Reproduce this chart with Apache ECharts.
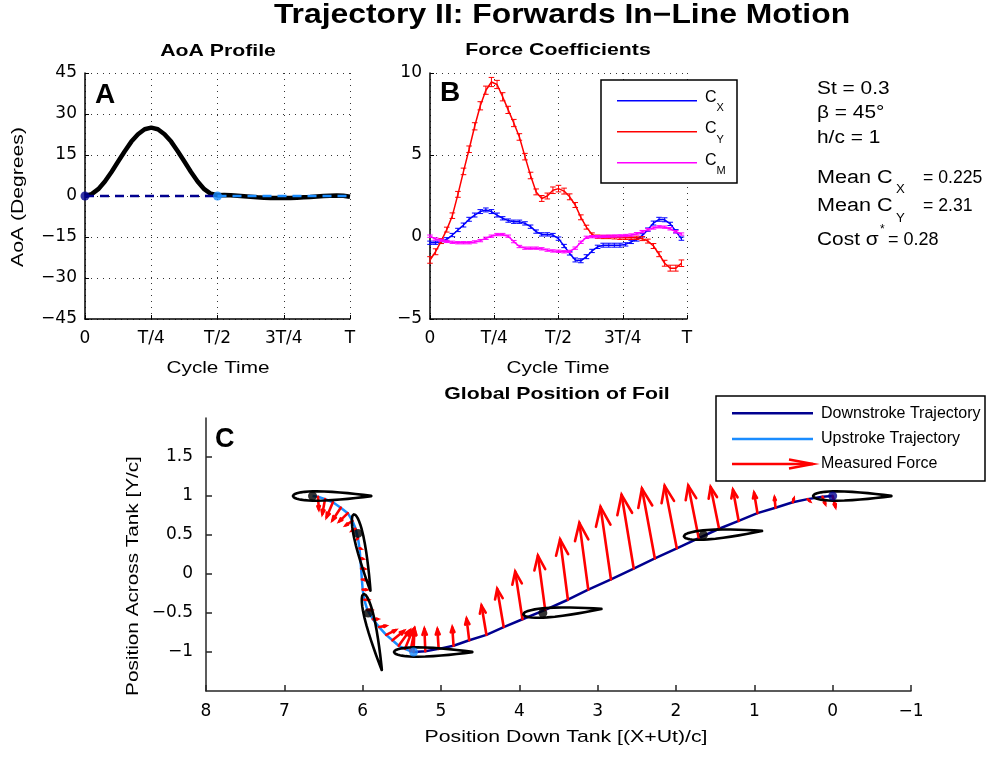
<!DOCTYPE html>
<html>
<head>
<meta charset="utf-8">
<title>Trajectory II: Forwards In−Line Motion</title>
<script src="https://cdn.jsdelivr.net/npm/echarts@6/dist/echarts.min.js"></script>
<style>
html, body { margin: 0; padding: 0; background: #fff; }
#chart { width: 989px; height: 759px; }
</style>
</head>
<body>
<div id="chart"></div>
<script>
// ---------- A: angle-of-attack profile ----------
const aoaPhase = [0, 0.025, 0.05, 0.075, 0.1, 0.125, 0.15, 0.175, 0.2, 0.225, 0.25, 0.275, 0.3, 0.325, 0.35,
  0.375, 0.4, 0.425, 0.45, 0.475, 0.5, 0.525, 0.55, 0.575, 0.6, 0.625, 0.65, 0.675, 0.7, 0.725, 0.75,
  0.775, 0.8, 0.825, 0.85, 0.875, 0.9, 0.925, 0.95, 0.975, 1];
const aoaDeg = [0, 0.7, 2.5, 5.3, 8.8, 12.6, 16.4, 19.9, 22.6, 24.4, 25.0, 24.4, 22.6, 19.9, 16.4,
  12.6, 8.8, 5.3, 2.5, 0.8, 0.3, 0.4, 0.3, 0.1, -0.1, -0.3, -0.5, -0.6, -0.7, -0.7, -0.7,
  -0.7, -0.6, -0.5, -0.4, -0.2, 0, 0.1, 0.2, 0.1, -0.3];
const strokeStart = [0, 0.5];   // downstroke, upstroke (fraction of T)
const strokeEnd = [0.5, 1];
const phaseLabels = ['0', 'T/4', 'T/2', '3T/4', 'T'];
const aoaLabels = ['−45', '−30', '−15', '0', '15', '30', '45'];

// ---------- B: force coefficients (mean ± error) ----------
const samplePhase = [0, 0.0217, 0.0435, 0.0652, 0.087, 0.1087, 0.1304, 0.1522, 0.1739, 0.1957, 0.2174,
  0.2391, 0.2609, 0.2826, 0.3043, 0.3261, 0.3478, 0.3696, 0.3913, 0.413, 0.4348, 0.4565, 0.4783, 0.5,
  0.5217, 0.5435, 0.5652, 0.587, 0.6087, 0.6304, 0.6522, 0.6739, 0.6957, 0.7174, 0.7391, 0.7609,
  0.7826, 0.8043, 0.8261, 0.8478, 0.8696, 0.8913, 0.913, 0.9348, 0.9565, 0.9783];
const cx = [-0.35, -0.35, -0.28, -0.14, 0.12, 0.43, 0.73, 1.08, 1.34, 1.55, 1.65, 1.55, 1.34, 1.14, 1.0,
  0.93, 0.93, 0.83, 0.63, 0.33, 0.16, 0.16, 0.12, -0.1, -0.55, -1.0, -1.4, -1.45, -1.2, -0.85, -0.6,
  -0.5, -0.5, -0.5, -0.5, -0.45, -0.3, -0.15, 0.1, 0.45, 0.85, 1.08, 1.05, 0.8, 0.35, -0.1];
const cxErr = [0.1, 0.1, 0.1, 0.1, 0.1, 0.1, 0.12, 0.12, 0.12, 0.12, 0.12, 0.12, 0.12, 0.1, 0.1,
  0.1, 0.1, 0.1, 0.1, 0.1, 0.1, 0.1, 0.1, 0.1, 0.1, 0.1, 0.12, 0.12, 0.12, 0.1, 0.1,
  0.12, 0.12, 0.12, 0.12, 0.1, 0.1, 0.1, 0.1, 0.1, 0.12, 0.12, 0.12, 0.1, 0.1, 0.1];
const cy = [-1.4, -0.9, -0.25, 0.45, 1.3, 2.6, 4.0, 5.35, 6.75, 8.0, 8.95, 9.45, 9.3, 8.55, 7.75,
  6.95, 6.1, 4.9, 3.75, 2.75, 2.35, 2.5, 2.85, 2.95, 2.8, 2.45, 1.95, 1.2, 0.6, 0.15, 0.02,
  0, 0, -0.02, -0.05, -0.05, -0.05, -0.05, -0.1, -0.25, -0.55, -1.05, -1.6, -1.9, -1.9, -1.6];
const cyErr = [0.2, 0.18, 0.15, 0.15, 0.17, 0.18, 0.2, 0.2, 0.22, 0.25, 0.25, 0.28, 0.25, 0.25, 0.22,
  0.22, 0.2, 0.2, 0.2, 0.18, 0.18, 0.18, 0.2, 0.2, 0.18, 0.18, 0.15, 0.15, 0.12, 0.1, 0.1,
  0.1, 0.1, 0.1, 0.1, 0.1, 0.1, 0.1, 0.12, 0.12, 0.15, 0.15, 0.18, 0.18, 0.18, 0.2];
const cm = [0.05, -0.12, -0.2, -0.27, -0.32, -0.35, -0.35, -0.35, -0.3, -0.22, -0.08, 0.05, 0.15, 0.15, 0.05,
  -0.28, -0.58, -0.68, -0.68, -0.68, -0.72, -0.8, -0.85, -0.87, -0.9, -0.88, -0.68, -0.32, -0.02, 0.02, 0.02,
  0.04, 0.05, 0.06, 0.07, 0.09, 0.12, 0.2, 0.33, 0.45, 0.55, 0.62, 0.6, 0.5, 0.32, 0.18];
const cmErr = [0.07, 0.07, 0.07, 0.07, 0.07, 0.07, 0.07, 0.07, 0.07, 0.07, 0.07, 0.07, 0.07, 0.07, 0.07,
  0.07, 0.07, 0.07, 0.07, 0.07, 0.07, 0.07, 0.07, 0.07, 0.07, 0.07, 0.07, 0.07, 0.07, 0.07, 0.07,
  0.07, 0.07, 0.07, 0.07, 0.07, 0.07, 0.07, 0.07, 0.07, 0.07, 0.07, 0.07, 0.07, 0.07, 0.07];
const coefLabels = ['−5', '0', '5', '10'];

// ---------- C: global position of the foil ----------
// path sampled at the same phases as panel B, plus the closing point at T
const pathX = [0, 0.13, 0.32, 0.51, 0.73, 0.96, 1.20, 1.45, 1.71, 1.99, 2.27, 2.54, 2.83, 3.12, 3.38,
  3.67, 3.96, 4.20, 4.42, 4.64, 4.84, 5.03, 5.20, 5.35,
  5.39, 5.46, 5.54, 5.62, 5.70, 5.79, 5.87, 5.94, 5.98, 6.00, 6.01, 6.02, 6.03, 6.04, 6.06,
  6.09, 6.13, 6.19, 6.28, 6.38, 6.48, 6.57, 6.64];
const pathY = [1, 0.99, 0.96, 0.92, 0.85, 0.78, 0.68, 0.58, 0.46, 0.33, 0.2, 0.07, -0.07, -0.2, -0.33,
  -0.46, -0.58, -0.68, -0.78, -0.85, -0.92, -0.96, -0.99, -1,
  -0.99, -0.96, -0.92, -0.85, -0.78, -0.68, -0.58, -0.46, -0.33, -0.2, -0.07, 0.07, 0.2, 0.33, 0.46,
  0.58, 0.68, 0.78, 0.85, 0.92, 0.96, 0.99, 1];
const bottomIndex = 23;       // sample where the downstroke ends
const forceScale = 0.1;       // chord lengths per unit force coefficient
const foilX = [0, 1.65, 3.7, 5.35, 5.93, 6.06, 6.64];
const foilY = [1, 0.5, -0.5, -1, -0.5, 0.52, 1];
const foilPitch = [0, -4, -4, 0, 76.6, 77.8, 0];   // degrees, chord direction
// NACA 0012 half thickness (per chord) from leading to trailing edge
const chordStation = [0, 0.0125, 0.025, 0.05, 0.075, 0.1, 0.15, 0.2, 0.25, 0.3, 0.4, 0.5, 0.6, 0.7, 0.8, 0.9, 0.95, 1.0];
const halfThickness = [0, 0.01894, 0.02615, 0.03555, 0.042, 0.04683, 0.05345, 0.05737, 0.05941, 0.06002,
  0.05803, 0.05294, 0.04563, 0.03664, 0.02623, 0.01448, 0.00807, 0.00126];
const pivotChord = 0.25;
const downTankLabels = ['−1', '0', '1', '2', '3', '4', '5', '6', '7', '8'];
const acrossTankLabels = ['', '−1', '−0.5', '0', '0.5', '1', '1.5', ''];

// ---------- styling ----------
const NAVY = '#00008f';
const LIGHT = '#1a8cff';
const pivotColor = [NAVY, '#000', '#000', LIGHT, '#000', '#000', '#000'];
const SANS = '"Liberation Sans", Arial, Helvetica, sans-serif';
const tickFont = { fontFamily: '"DejaVu Sans", sans-serif', fontSize: 17, color: '#000' };
const dotted = { show: true, lineStyle: { type: [1, 5], color: '#333', width: 1 } };

const chart = echarts.init(document.getElementById('chart'), null, { renderer: 'canvas' });

function cycleAxis(gi) {
  return {
    gridIndex: gi, type: 'value', min: 0, max: 1, interval: 0.25,
    axisLine: { show: true, onZero: false, lineStyle: { color: '#000', width: 1.5 } },
    axisTick: { show: true, inside: true, length: 4, lineStyle: { color: '#000', width: 1 } },
    axisLabel: Object.assign({}, tickFont, { margin: 11, showMinLabel: true, showMaxLabel: true,
      formatter: v => phaseLabels[Math.round(v * 4)] }),
    splitLine: dotted
  };
}

function errorBars(color) {
  return function (params, api) {
    const t = api.value(0), v = api.value(1), e = api.value(2);
    const lo = api.coord([t, v - e]), hi = api.coord([t, v + e]);
    const w = 2.8, st = { stroke: color, lineWidth: 1 };
    return { type: 'group', children: [
      { type: 'line', shape: { x1: lo[0], y1: lo[1], x2: hi[0], y2: hi[1] }, style: st },
      { type: 'line', shape: { x1: lo[0] - w, y1: lo[1], x2: lo[0] + w, y2: lo[1] }, style: st },
      { type: 'line', shape: { x1: hi[0] - w, y1: hi[1], x2: hi[0] + w, y2: hi[1] }, style: st }
    ] };
  };
}

function renderArrow(params, api) {
  const x = api.value(0), y = api.value(1), fx = api.value(2), fy = api.value(3);
  const p0 = api.coord([x, y]);
  const p1 = api.coord([x + fx * forceScale, y + fy * forceScale]);
  const dx = p1[0] - p0[0], dy = p1[1] - p0[1];
  const L = Math.hypot(dx, dy);
  if (L < 0.5) return null;
  const ux = dx / L, uy = dy / L, hl = 0.26 * L, hw = 0.1 * L;
  const bx = p1[0] - ux * hl, by = p1[1] - uy * hl;
  const st = { stroke: '#ff0000', lineWidth: 2.6, fill: 'none', lineCap: 'round' };
  return { type: 'group', children: [
    { type: 'line', shape: { x1: p0[0], y1: p0[1], x2: p1[0], y2: p1[1] }, style: st },
    { type: 'polyline', shape: { points: [[bx - uy * hw, by + ux * hw], [p1[0], p1[1]], [bx + uy * hw, by - ux * hw]] }, style: st }
  ] };
}

function renderFoil(params, api) {
  const px = api.value(0), py = api.value(1), th = api.value(2) * Math.PI / 180;
  const ux = Math.cos(th), uy = Math.sin(th), nx = -uy, ny = ux;
  const pts = [];
  for (let i = 0; i < chordStation.length; i++) {
    const s = pivotChord - chordStation[i], t = halfThickness[i];
    pts.push(api.coord([px + ux * s + nx * t, py + uy * s + ny * t]));
  }
  for (let i = chordStation.length - 1; i >= 0; i--) {
    const s = pivotChord - chordStation[i], t = halfThickness[i];
    pts.push(api.coord([px + ux * s - nx * t, py + uy * s - ny * t]));
  }
  return { type: 'polygon', shape: { points: pts }, style: { fill: 'none', stroke: '#000', lineWidth: 2.6, lineJoin: 'round' } };
}

function label(text, x, y, o) {
  o = o || {};
  const align = o.align || 'center';
  return {
    type: 'text', x: x, y: y, scaleX: o.sx || 1, rotation: o.rot || 0, z: 20, silent: true,
    style: {
      text: text, fill: '#000',
      font: (o.bold ? 'bold ' : '') + (o.size || 17) + 'px ' + SANS,
      align: align, verticalAlign: 'middle', textAlign: align, textVerticalAlign: 'middle'
    }
  };
}

const coefSeries = [
  { vals: cx, err: cxErr, color: '#0000ff' },
  { vals: cy, err: cyErr, color: '#ff0000' },
  { vals: cm, err: cmErr, color: '#ff00ff' }
];

const series = [];
// A
series.push({ type: 'line', xAxisIndex: 0, yAxisIndex: 0, symbol: 'none', silent: true, z: 2,
  data: aoaPhase.map((t, i) => [t, aoaDeg[i]]), lineStyle: { color: '#000', width: 4.5 } });
[NAVY, LIGHT].forEach((c, s) => {
  series.push({ type: 'line', xAxisIndex: 0, yAxisIndex: 0, symbol: 'none', silent: true, z: 3,
    data: [[strokeStart[s], 0], [strokeEnd[s], 0]], lineStyle: { color: c, width: 2.5, type: [9, 6] } });
});
series.push({ type: 'scatter', xAxisIndex: 0, yAxisIndex: 0, symbolSize: 9, silent: true, z: 4,
  data: [{ value: [strokeStart[0], 0], itemStyle: { color: NAVY } }, { value: [strokeStart[1], 0], itemStyle: { color: LIGHT } }] });
// B
coefSeries.forEach((s, j) => {
  series.push({ type: 'line', xAxisIndex: 1, yAxisIndex: 1, symbol: 'none', silent: true, z: 2 + j,
    data: samplePhase.map((t, i) => [t, s.vals[i]]), lineStyle: { color: s.color, width: 1.5 } });
  series.push({ type: 'custom', xAxisIndex: 1, yAxisIndex: 1, silent: true, z: 2 + j,
    encode: { x: 0, y: 1 }, renderItem: errorBars(s.color),
    data: samplePhase.map((t, i) => [t, s.vals[i], s.err[i]]) });
});
// C
series.push({ type: 'line', xAxisIndex: 2, yAxisIndex: 2, symbol: 'none', silent: true, z: 2,
  data: pathX.slice(0, bottomIndex + 1).map((x, i) => [x, pathY[i]]), lineStyle: { color: NAVY, width: 2.5 } });
series.push({ type: 'line', xAxisIndex: 2, yAxisIndex: 2, symbol: 'none', silent: true, z: 2,
  data: pathX.slice(bottomIndex).map((x, i) => [x, pathY[bottomIndex + i]]), lineStyle: { color: LIGHT, width: 2.5 } });
series.push({ type: 'custom', xAxisIndex: 2, yAxisIndex: 2, silent: true, z: 3, clip: false,
  encode: { x: 0, y: 1 }, renderItem: renderArrow,
  data: samplePhase.map((t, i) => [pathX[i], pathY[i], cx[i], cy[i]]) });
series.push({ type: 'custom', xAxisIndex: 2, yAxisIndex: 2, silent: true, z: 4, clip: false,
  encode: { x: 0, y: 1 }, renderItem: renderFoil,
  data: foilX.map((x, i) => [x, foilY[i], foilPitch[i]]) });
series.push({ type: 'scatter', xAxisIndex: 2, yAxisIndex: 2, symbolSize: 9, silent: true, z: 5,
  data: foilX.map((x, i) => ({ value: [x, foilY[i]], itemStyle: { color: pivotColor[i] } })) });

const graphic = [
  label('Trajectory II: Forwards In−Line Motion', 562, 16, { bold: true, size: 27, sx: 1.18 }),
  label('AoA Profile', 218, 51, { bold: true, sx: 1.25 }),
  label('Force Coefficients', 558, 50, { bold: true, sx: 1.25 }),
  label('Global Position of Foil', 557, 394, { bold: true, sx: 1.25 }),
  label('Cycle Time', 218, 368, { sx: 1.22 }),
  label('Cycle Time', 558, 368, { sx: 1.22 }),
  label('AoA (Degrees)', 18, 197, { sx: 1.245, rot: Math.PI / 2 }),
  label('Position Across Tank [Y/c]', 133, 576, { sx: 1.22, rot: Math.PI / 2 }),
  label('Position Down Tank [(X+Ut)/c]', 566, 737, { sx: 1.25 }),
  label('A', 95, 95, { bold: true, size: 28, align: 'left' }),
  label('B', 440, 93.5, { bold: true, size: 28, align: 'left' }),
  label('C', 215, 439.5, { bold: true, size: 27, align: 'left' }),
  // run parameters and cycle averages
  label('St = 0.3', 817, 89, { align: 'left', size: 18, sx: 1.16 }),
  label('β = 45°', 817, 113.5, { align: 'left', size: 18, sx: 1.16 }),
  label('h/c = 1', 817, 138, { align: 'left', size: 18, sx: 1.16 }),
  label('Mean C', 817, 178, { align: 'left', size: 18, sx: 1.2 }),
  label('X', 896, 190, { align: 'left', size: 12, sx: 1.1 }),
  label('= 0.225', 923, 178, { align: 'left', size: 18, sx: 0.98 }),
  label('Mean C', 817, 206.5, { align: 'left', size: 18, sx: 1.2 }),
  label('Y', 896, 219, { align: 'left', size: 12, sx: 1.1 }),
  label('= 2.31', 923, 206.5, { align: 'left', size: 18, sx: 0.98 }),
  label('Cost σ', 817, 240, { align: 'left', size: 18, sx: 1.16 }),
  label('*', 880, 230, { align: 'left', size: 12 }),
  label('= 0.28', 888, 240, { align: 'left', size: 18, sx: 1.0 }),
  // legend of panel B
  { type: 'rect', shape: { x: 601, y: 80, width: 136, height: 103 }, style: { fill: '#fff', stroke: '#000', lineWidth: 1.5 }, z: 15, silent: true },
  { type: 'line', shape: { x1: 617, y1: 100.7, x2: 697, y2: 100.7 }, style: { stroke: '#0000ff', lineWidth: 1.5 }, z: 16, silent: true },
  { type: 'line', shape: { x1: 617, y1: 131.7, x2: 697, y2: 131.7 }, style: { stroke: '#ff0000', lineWidth: 1.5 }, z: 16, silent: true },
  { type: 'line', shape: { x1: 617, y1: 162.7, x2: 697, y2: 162.7 }, style: { stroke: '#ff00ff', lineWidth: 1.5 }, z: 16, silent: true },
  label('C', 705, 97.5, { align: 'left', size: 16 }),
  label('X', 716.5, 107.5, { align: 'left', size: 11 }),
  label('C', 705, 129, { align: 'left', size: 16 }),
  label('Y', 716.5, 139.5, { align: 'left', size: 11 }),
  label('C', 705, 161, { align: 'left', size: 16 }),
  label('M', 716.5, 171, { align: 'left', size: 11 }),
  // legend of panel C
  { type: 'rect', shape: { x: 716, y: 396, width: 269, height: 85 }, style: { fill: '#fff', stroke: '#000', lineWidth: 1.5 }, z: 15, silent: true },
  { type: 'line', shape: { x1: 732, y1: 413.3, x2: 813, y2: 413.3 }, style: { stroke: NAVY, lineWidth: 2.5 }, z: 16, silent: true },
  { type: 'line', shape: { x1: 732, y1: 439, x2: 813, y2: 439 }, style: { stroke: LIGHT, lineWidth: 2.5 }, z: 16, silent: true },
  { type: 'line', shape: { x1: 732, y1: 464, x2: 813, y2: 464 }, style: { stroke: '#ff0000', lineWidth: 2.5 }, z: 16, silent: true },
  { type: 'polyline', shape: { points: [[789, 459.5], [813, 464], [789, 468.5]] }, style: { stroke: '#ff0000', lineWidth: 2.5, fill: 'none' }, z: 16, silent: true },
  label('Downstroke Trajectory', 821, 413.3, { align: 'left', size: 16 }),
  label('Upstroke Trajectory', 821, 439, { align: 'left', size: 16 }),
  label('Measured Force', 821, 464, { align: 'left', size: 16 })
];

const option = {
  animation: false,
  backgroundColor: '#fff',
  grid: [
    { left: 85, top: 73, width: 265, height: 246 },
    { left: 430, top: 73, width: 257, height: 246 },
    { left: 206, top: 418, width: 705, height: 273 }
  ],
  xAxis: [
    cycleAxis(0),
    cycleAxis(1),
    {
      gridIndex: 2, type: 'value', min: -1, max: 8, interval: 1, inverse: true,
      axisLine: { show: true, onZero: false, lineStyle: { color: '#262626', width: 1.5 } },
      axisTick: { show: true, inside: true, length: 6, lineStyle: { color: '#262626', width: 1.5 } },
      axisLabel: Object.assign({}, tickFont, { margin: 12, showMinLabel: true, showMaxLabel: true,
        formatter: v => downTankLabels[Math.round(v + 1)] }),
      splitLine: { show: false }
    }
  ],
  yAxis: [
    {
      gridIndex: 0, type: 'value', min: -45, max: 45, interval: 15,
      axisLine: { show: true, onZero: false, lineStyle: { color: '#000', width: 1.5 } },
      axisTick: { show: true, inside: true, length: 4, lineStyle: { color: '#000', width: 1 } },
      axisLabel: Object.assign({}, tickFont, { margin: 8, showMinLabel: true, showMaxLabel: true,
        formatter: v => aoaLabels[Math.round((v + 45) / 15)] }),
      splitLine: dotted
    },
    {
      gridIndex: 1, type: 'value', min: -5, max: 10, interval: 5,
      axisLine: { show: true, onZero: false, lineStyle: { color: '#000', width: 1.5 } },
      axisTick: { show: true, inside: true, length: 4, lineStyle: { color: '#000', width: 1 } },
      axisLabel: Object.assign({}, tickFont, { margin: 8, showMinLabel: true, showMaxLabel: true,
        formatter: v => coefLabels[Math.round((v + 5) / 5)] }),
      splitLine: dotted
    },
    {
      gridIndex: 2, type: 'value', min: -1.5, max: 2, interval: 0.5,
      axisLine: { show: true, onZero: false, lineStyle: { color: '#262626', width: 1.5 } },
      axisTick: { show: true, inside: true, length: 6, lineStyle: { color: '#262626', width: 1.5 },
        customValues: [-1, -0.5, 0, 0.5, 1, 1.5] },
      axisLabel: Object.assign({}, tickFont, { margin: 13,
        formatter: v => acrossTankLabels[Math.round((v + 1.5) / 0.5)] }),
      splitLine: { show: false }
    }
  ],
  series: series,
  graphic: graphic
};

chart.setOption(option);
</script>
</body>
</html>
